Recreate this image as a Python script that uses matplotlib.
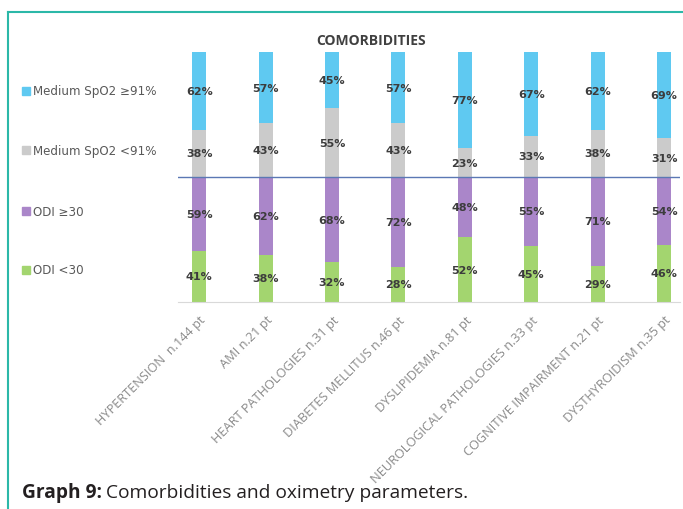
import numpy as np
import matplotlib.pyplot as plt

# comorbidities and oximetry percentages
categories = ['HYPERTENSION  n.144 pt', 'AMI n.21 pt', 'HEART PATHOLOGIES n.31 pt',
              'DIABETES MELLITUS n.46 pt', 'DYSLIPIDEMIA n.81 pt',
              'NEUROLOGICAL PATHOLOGIES n.33 pt', 'COGNITIVE IMPAIRMENT n.21 pt',
              'DYSTHYROIDISM n.35 pt']
odi_lt30 = [41, 38, 32, 28, 52, 45, 29, 46]
odi_ge30 = [59, 62, 68, 72, 48, 55, 71, 54]
spo2_lt91 = [38, 43, 55, 43, 23, 33, 38, 31]
spo2_ge91 = [62, 57, 45, 57, 77, 67, 62, 69]

series = [('ODI <30', odi_lt30, '#a3d56f'),
          ('ODI \u226530', odi_ge30, '#aa86c9'),
          ('Medium SpO2 <91%', spo2_lt91, '#cbcbcb'),
          ('Medium SpO2 \u226591%', spo2_ge91, '#5fc9f1')]

fig = plt.figure(figsize=(6.83, 5.10), dpi=100)
ax = fig.add_axes([178/683, 1 - 303/510, 502/683, 250/510])

x = np.arange(len(categories))
bottom = np.zeros(len(categories))
for name, vals, col in series:
    vals = np.array(vals)
    ax.bar(x, vals, bottom=bottom, width=0.21, color=col, label=name)
    for xi, b, v in zip(x, bottom, vals):
        ax.text(xi, b + v / 2, f'{v}%', ha='center', va='center', fontsize=8,
                fontweight='bold', color='#3c3c3c', family='DejaVu Sans')
    bottom = bottom + vals

ax.axhline(100, color='#5b78b4', lw=1)
ax.set_xlim(-0.32, 7.24)
ax.set_ylim(0, 200)
for s in ['top', 'right', 'left']:
    ax.spines[s].set_visible(False)
ax.spines['bottom'].set_color('#d9d9d9')
ax.set_yticks([])
ax.set_xticks(x)
ax.set_xticklabels(categories, rotation=45, ha='right', rotation_mode='anchor',
                   fontsize=9.2, color='#8a8a8a', family='Open Sans')
ax.tick_params(axis='x', length=0, pad=8)

fig.text(371/683, 1 - 41/510, 'COMORBIDITIES', ha='center', va='center',
         fontsize=10, fontweight='bold', color='#404040', family='Open Sans')

# legend drawn by hand on the left
leg_y = [92, 151, 212, 271]
for (name, vals, col), yy in zip(series[::-1], leg_y):
    fig.patches.append(plt.Rectangle((22/683, 1 - (yy + 4)/510), 8/683, 8/510,
                                     transform=fig.transFigure, color=col))
    fig.text(33/683, 1 - yy/510, name, ha='left', va='center', fontsize=8.6,
             color='#595959', family='DejaVu Sans')

# teal frame
fig.add_artist(plt.Line2D([8/683, 8/683], [0, 1 - 13/510], color='#2bb8a8', lw=1.5))
fig.add_artist(plt.Line2D([8/683, 1], [1 - 13/510, 1 - 13/510], color='#2bb8a8', lw=1.5))

fig.text(22/683, 1 - 493/510, 'Graph 9:', ha='left', va='center', fontsize=13.8,
         fontweight='bold', color='#231f20', family='Open Sans')
fig.text(106/683, 1 - 493/510, 'Comorbidities and oximetry parameters.', ha='left',
         va='center', fontsize=13.8, color='#231f20', family='Open Sans')

fig.savefig('out.png', dpi=100)
